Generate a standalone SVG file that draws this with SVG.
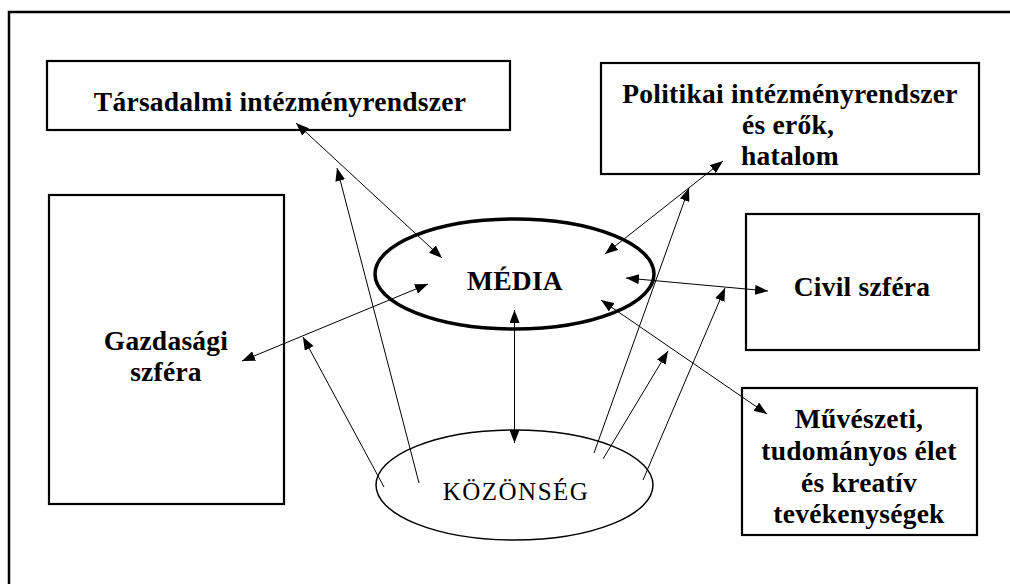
<svg xmlns="http://www.w3.org/2000/svg" width="1010" height="584" viewBox="0 0 1010 584">
<defs>
<style>
.box{fill:#fff;stroke:#000;stroke-width:2.2}
.lbl{font-family:"Liberation Serif","Times New Roman",serif;font-weight:bold;font-size:27.5px;letter-spacing:0.25px;text-anchor:middle;fill:#000}
.reg{font-family:"Liberation Serif","Times New Roman",serif;font-size:25px;letter-spacing:1.5px;text-anchor:middle;fill:#000}
.con{stroke:#000;stroke-width:1;fill:none}
</style>
<marker id="ah" viewBox="0 0 13 10" refX="13" refY="5" markerWidth="13" markerHeight="10" markerUnits="userSpaceOnUse" orient="auto-start-reverse">
<path d="M0,0 L13,5 L0,10 z" fill="#000"/>
</marker>
</defs>
<rect width="1010" height="584" fill="#fff"/>
<rect id="frame" x="9" y="12" width="1040" height="620" fill="none" stroke="#000" stroke-width="2.5"/>

<g id="tarsadalmi">
<rect class="box" x="47" y="61" width="463" height="69"/>
<text class="lbl" x="280" y="111">Társadalmi intézményrendszer</text>
</g>
<g id="politikai">
<rect class="box" x="601" y="63" width="378" height="111"/>
<text class="lbl" x="790" y="103">Politikai intézményrendszer</text>
<text class="lbl" x="788" y="134">és erők,</text>
<text class="lbl" x="790" y="165">hatalom</text>
</g>
<g id="gazdasagi">
<rect class="box" x="49" y="195" width="235" height="309"/>
<text class="lbl" x="166" y="350">Gazdasági</text>
<text class="lbl" x="166" y="381">szféra</text>
</g>
<g id="civil">
<rect class="box" x="746" y="214" width="233" height="136"/>
<text class="lbl" x="862" y="296">Civil szféra</text>
</g>
<g id="muveszeti">
<rect class="box" x="742" y="388" width="235" height="147"/>
<text class="lbl" x="859" y="428">Művészeti,</text>
<text class="lbl" x="859" y="460">tudományos élet</text>
<text class="lbl" x="859" y="492">és kreatív</text>
<text class="lbl" x="859" y="523">tevékenységek</text>
</g>
<g id="media">
<ellipse cx="514.5" cy="274" rx="139.5" ry="55" fill="none" stroke="#000" stroke-width="3.5"/>
<text class="lbl" x="515" y="290">MÉDIA</text>
</g>
<g id="kozonseg">
<ellipse cx="514.5" cy="485" rx="138.5" ry="55" fill="none" stroke="#000" stroke-width="1.5"/>
<text class="reg" x="516" y="500">KÖZÖNSÉG</text>
</g>

<g id="connectors">
<line class="con" x1="296" y1="123" x2="442" y2="258" marker-start="url(#ah)" marker-end="url(#ah)"/>
<line class="con" x1="242" y1="361" x2="428" y2="284" marker-start="url(#ah)" marker-end="url(#ah)"/>
<line class="con" x1="723" y1="161" x2="605" y2="254" marker-start="url(#ah)" marker-end="url(#ah)"/>
<line class="con" x1="626" y1="278" x2="768" y2="291" marker-start="url(#ah)" marker-end="url(#ah)"/>
<line class="con" x1="601" y1="300" x2="767" y2="414" marker-start="url(#ah)" marker-end="url(#ah)"/>
<line class="con" x1="514.5" y1="310" x2="514.5" y2="443" marker-start="url(#ah)" marker-end="url(#ah)"/>
<line class="con" x1="419" y1="483" x2="337" y2="168" marker-end="url(#ah)"/>
<line class="con" x1="384" y1="487" x2="303" y2="337" marker-end="url(#ah)"/>
<line class="con" x1="594" y1="453" x2="689" y2="188" marker-end="url(#ah)"/>
<line class="con" x1="643" y1="480" x2="725" y2="288" marker-end="url(#ah)"/>
<line class="con" x1="603" y1="459" x2="668" y2="351" marker-end="url(#ah)"/>
</g>
</svg>
